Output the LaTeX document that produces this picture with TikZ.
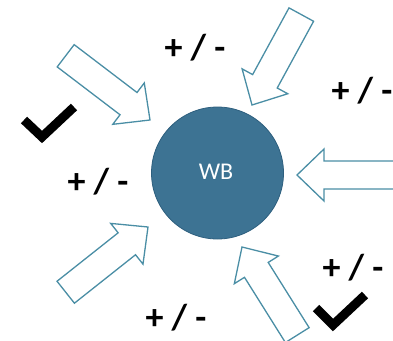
\documentclass[tikz,border=0pt]{standalone}
\usepackage{fontspec}
\setmainfont{Carlito}
\definecolor{wbfill}{HTML}{3D7393}
\definecolor{wbedge}{HTML}{2E5F7E}
\definecolor{arrowedge}{HTML}{4A8EA5}
\tikzset{
  barrow/.style={draw=arrowedge, line width=1.3pt, fill=white, line join=miter},
  pm/.style={font=\fontsize{36}{36}\selectfont\bfseries, text=black, inner sep=0pt},
  checkmark/.style={draw=black, line width=9pt, line join=miter, line cap=butt},
}
\newcommand\blockarrow[4]{%
  \draw[barrow, shift={(#1,#2)}, rotate=#3] (0,0) -- (-27,26) -- (-27,14) -- (-#4,14) -- (-#4,-14) -- (-27,-14) -- (-27,-26) -- cycle;}
\begin{document}
\begin{tikzpicture}[x=1pt, y=-1pt]
\useasboundingbox (0,0) rectangle (393,340);
\clip (0,0) rectangle (393,340);
% circle
\node[circle, fill=wbfill, draw=wbedge, line width=0.8pt, minimum size=132pt, inner sep=0pt] (wb) at (217.5,173) {};
\node[text=white, font=\fontsize{24}{24}\selectfont, inner sep=0pt] (wbtext) at (216,172) {WB};
% block arrows
\blockarrow{150}{120}{-37.3}{106}
\blockarrow{252}{105}{-118.6}{103}
\blockarrow{297}{175}{180}{115}
\blockarrow{148}{227}{38.4}{105}
\blockarrow{242}{247}{122.1}{104}
% labels
\node[pm] (l1) at (195,48) {+ / -};
\node[pm] (l2) at (362,91) {+ / -};
\node[pm] (l3) at (98,182) {+ / -};
\node[pm] (l4) at (176,318) {+ / -};
\node[pm] (l5) at (353,268) {+ / -};
% checkmarks
\draw[checkmark] (24,120) -- (42,137) -- (74,107);
\draw[checkmark] (316,308) -- (333,325) -- (365,295);
\end{tikzpicture}
\end{document}
